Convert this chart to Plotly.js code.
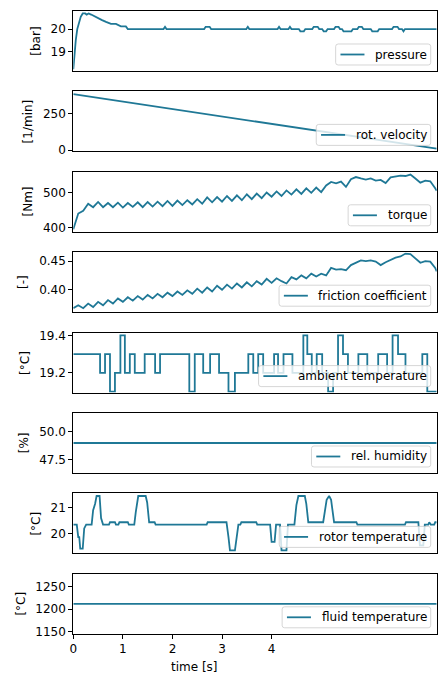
<!DOCTYPE html>
<html>
<head>
<meta charset="utf-8">
<script src="https://cdn.plot.ly/plotly-3.0.1.min.js"></script>
<style>html,body{margin:0;padding:0;background:#fff;}#chart{width:439px;height:680px;}</style>
</head>
<body>
<div id="chart"></div>
<script>
// ---------------- data ----------------
const xTicks = [0, 1, 2, 3, 4];

const tPressure = [0, 0.02, 0.05, 0.08, 0.11, 0.15, 0.19, 0.24, 0.27, 0.31, 0.36, 0.40, 0.45, 0.52, 0.58, 0.66, 0.76, 0.86, 0.96, 1.06, 1.10,
  1.82, 1.85, 1.88,
  2.64, 2.67, 2.75, 2.78,
  3.49, 3.52, 3.55,
  4.12, 4.15, 4.18,
  4.34, 4.37, 4.40,
  4.55, 4.58, 4.65, 4.68,
  4.82, 4.85, 4.93, 4.96,
  5.02, 5.05, 5.10, 5.13,
  5.26, 5.29, 5.35, 5.38,
  5.42, 5.45, 5.61, 5.64,
  5.73, 5.76, 5.82, 5.85,
  6.00, 6.03, 6.14, 6.17,
  6.43, 6.46, 6.54, 6.57,
  6.63, 6.66, 6.69,
  7.33];
const pressure = [18.2, 18.9, 19.5, 20.0, 20.3, 20.55, 20.7, 20.7, 20.65, 20.7, 20.65, 20.6, 20.55, 20.45, 20.4, 20.32, 20.23, 20.23, 20.12, 20.12, 20.0,
  20.0, 20.1, 20.0,
  20.0, 20.1, 20.1, 20.0,
  20.0, 20.1, 20.0,
  20.0, 20.1, 20.0,
  20.0, 20.1, 20.0,
  20.0, 19.9, 19.9, 20.0,
  20.0, 20.1, 20.1, 20.0,
  20.0, 19.9, 19.9, 20.0,
  20.0, 20.1, 20.1, 20.0,
  20.0, 19.9, 19.9, 20.0,
  20.0, 20.1, 20.1, 20.0,
  20.0, 19.9, 19.9, 20.0,
  20.0, 20.1, 20.1, 20.0,
  20.0, 19.9, 20.0,
  20.0];

const tVelocity = [0, 7.33];
const velocity = [385, 10];

const tOsc = [0.0, 0.1, 0.2, 0.3, 0.4, 0.5, 0.6, 0.7, 0.8, 0.9,
  1.0, 1.1, 1.2, 1.3, 1.4, 1.5, 1.6, 1.7, 1.8, 1.9,
  2.0, 2.1, 2.2, 2.3, 2.4, 2.5, 2.6, 2.7, 2.8, 2.9,
  3.0, 3.1, 3.2, 3.3, 3.4, 3.5, 3.6, 3.7, 3.8, 3.9,
  4.0, 4.1, 4.2, 4.3, 4.4, 4.5, 4.6, 4.7, 4.8, 4.9,
  5.0, 5.1, 5.2, 5.3, 5.4, 5.5, 5.6, 5.7, 5.8, 5.9,
  6.0, 6.1, 6.2, 6.3, 6.4, 6.5, 6.6, 6.7, 6.8, 6.9,
  7.0, 7.1, 7.2, 7.3, 7.33];
const torque = [395, 440, 448, 468, 458, 473, 458, 470, 458, 471,
  457, 470, 459, 472, 458, 473, 460, 474, 461, 476,
  462, 477, 464, 478, 466, 481, 468, 486, 472, 487,
  474, 490, 476, 492, 478, 495, 481, 497, 484, 500,
  488, 503, 490, 506, 494, 509, 496, 512, 499, 514,
  501, 520, 530, 526, 531, 516, 538, 544, 540, 537,
  540, 534, 536, 527, 543, 545, 548, 547, 551, 540,
  528, 534, 532, 512, 505];
const friction = [0.368, 0.373, 0.368, 0.376, 0.370, 0.379, 0.373, 0.382, 0.376, 0.385,
  0.379, 0.387, 0.381, 0.389, 0.383, 0.391, 0.385, 0.393, 0.387, 0.395,
  0.389, 0.397, 0.391, 0.399, 0.393, 0.402, 0.395, 0.404, 0.397, 0.407,
  0.400, 0.409, 0.402, 0.411, 0.404, 0.413, 0.406, 0.415, 0.409, 0.419,
  0.412, 0.420, 0.415, 0.411, 0.422, 0.418, 0.425, 0.420, 0.428, 0.423,
  0.428, 0.425, 0.438, 0.435, 0.436, 0.434, 0.443, 0.447, 0.451, 0.450,
  0.451, 0.449, 0.443, 0.448, 0.452, 0.456, 0.458, 0.463, 0.462, 0.455,
  0.447, 0.450, 0.449, 0.438, 0.432];

const tAmbient = [0, 0.54, 0.64, 0.74, 0.84, 0.95, 1.04, 1.14, 1.24, 1.44, 1.65, 1.75, 2.34, 2.45, 2.62, 2.76, 2.94,
  3.13, 3.26, 3.53, 3.63, 3.73, 3.83, 4.05, 4.13, 4.24, 4.42, 4.64, 4.72, 4.81, 4.91, 5.02, 5.14, 5.24, 5.34,
  5.44, 5.54, 5.75, 5.93, 6.15, 6.33, 6.44, 6.55, 6.70, 7.04, 7.14, 7.33];
const ambient = [19.3, 19.2, 19.3, 19.1, 19.2, 19.4, 19.2, 19.3, 19.2, 19.3, 19.2, 19.3, 19.1, 19.3, 19.2, 19.3, 19.2,
  19.1, 19.2, 19.3, 19.2, 19.3, 19.2, 19.3, 19.2, 19.3, 19.2, 19.4, 19.3, 19.2, 19.3, 19.2, 19.1, 19.2, 19.4,
  19.3, 19.2, 19.3, 19.2, 19.3, 19.2, 19.4, 19.3, 19.2, 19.3, 19.1, 19.1];

const tHumidity = [0, 7.33];
const humidity = [49.0, 49.0];

const tRotor = [0, 0.07, 0.10, 0.12, 0.14, 0.19, 0.22, 0.26, 0.37, 0.40, 0.44, 0.47, 0.53, 0.56, 0.60, 0.72, 0.74, 0.84,
  0.86, 0.91, 0.93, 1.10, 1.12, 1.23, 1.26, 1.29, 1.31, 1.46, 1.49, 1.53, 1.64, 1.66, 2.69, 2.71, 3.09, 3.13,
  3.16, 3.26, 3.29, 3.33, 3.37, 3.39, 3.69, 3.71, 3.97, 4.00, 4.06, 4.09, 4.17, 4.20, 4.30, 4.33, 4.46, 4.50,
  4.54, 4.67, 4.70, 4.74, 5.04, 5.08, 5.11, 5.16, 5.20, 5.26, 5.71, 5.73, 6.69, 6.71, 6.96, 6.99, 7.06, 7.09,
  7.16, 7.18, 7.21, 7.28, 7.30, 7.33];
const rotor = [20.35, 20.35, 19.87, 19.87, 19.42, 19.42, 20.2, 20.35, 20.35, 20.9, 21.15, 21.45, 21.45, 20.6, 20.35, 20.35, 20.44, 20.44,
  20.35, 20.35, 20.44, 20.44, 20.35, 20.35, 20.83, 21.2, 21.45, 21.45, 21.2, 20.44, 20.44, 20.35, 20.35, 20.44, 20.44, 19.87,
  19.36, 19.36, 19.87, 20.35, 20.35, 20.44, 20.44, 20.35, 20.35, 19.68, 19.68, 20.35, 20.35, 19.36, 19.36, 20.35, 20.35, 21.1,
  21.45, 21.45, 21.15, 20.44, 20.44, 21.0, 21.3, 21.45, 21.3, 20.44, 20.44, 20.35, 20.35, 20.44, 20.44, 19.55, 19.55, 20.35,
  20.35, 20.44, 20.35, 20.35, 20.44, 20.44];

const tFluid = [0, 7.33];
const fluid = [1212, 1212];

const seriesNames = ['pressure', 'rot. velocity', 'torque', 'friction coefficient', 'ambient temperature', 'rel. humidity', 'rotor temperature', 'fluid temperature'];
const yUnits = ['[bar]', '[1/min]', '[Nm]', '[-]', '[°C]', '[%]', '[°C]', '[°C]'];
const yTickVals = [[19, 20], [0, 250], [400, 500], [0.40, 0.45], [19.2, 19.4], [47.5, 50.0], [20, 21], [1150, 1200, 1250]];
const yTickText = [['19', '20'], ['0', '250'], ['400', '500'], ['0.40', '0.45'], ['19.2', '19.4'], ['47.5', '50.0'], ['20', '21'], ['1150', '1200', '1250']];
const xTitle = 'time [s]';

// ---------------- styling / layout ----------------
const W = 439, H = 680;
const LINE = '#1f7896';
const LW = 1.8;
const FONT = {family: 'DejaVu Sans', size: 12, color: '#000'};
const xs = [tPressure, tVelocity, tOsc, tOsc, tAmbient, tHumidity, tRotor, tFluid];
const ys = [pressure, velocity, torque, friction, ambient, humidity, rotor, fluid];
const shapesKind = ['linear', 'linear', 'linear', 'linear', 'hv', 'linear', 'linear', 'linear'];
const yRanges = [[18.12, 20.81], [-9, 404], [388, 559], [0.361, 0.4654], [19.095, 19.415], [46.305, 51.695], [19.24, 21.55], [1145.4, 1278.7]];
const yTitleX = [35.7, 28, 27.7, 23.7, 24.3, 24.3, 36.2, 20.8];

const plotL = 73.3, plotR = 436.7;
const px = v => v / W, py = v => 1 - v / H;

const ctx = document.createElement('canvas').getContext('2d');
ctx.font = '12px "DejaVu Sans"';

function roundRect(x0, y0, x1, y1, r) {
  const p = (a, b) => px(a).toFixed(5) + ',' + py(b).toFixed(5);
  return 'M' + p(x0 + r, y0) + ' L' + p(x1 - r, y0) + ' Q' + p(x1, y0) + ' ' + p(x1, y0 + r) +
    ' L' + p(x1, y1 - r) + ' Q' + p(x1, y1) + ' ' + p(x1 - r, y1) +
    ' L' + p(x0 + r, y1) + ' Q' + p(x0, y1) + ' ' + p(x0, y1 - r) +
    ' L' + p(x0, y0 + r) + ' Q' + p(x0, y0) + ' ' + p(x0 + r, y0) + ' Z';
}

const traces = [];
const shapes = [];
const annotations = [{
  text: xTitle, xref: 'paper', yref: 'paper', x: px(194.7), y: py(667),
  xanchor: 'center', yanchor: 'middle', showarrow: false, font: FONT, borderpad: 0
}];
const layout = {
  width: W, height: H,
  margin: {l: 0, r: 0, t: 0, b: 0},
  paper_bgcolor: '#fff', plot_bgcolor: '#fff',
  font: FONT,
  showlegend: false
};

for (let i = 0; i < 8; i++) {
  const n = i === 0 ? '' : String(i + 1);
  const top = 11 + 80.4 * i, bot = top + 60;
  traces.push({
    x: xs[i], y: ys[i], type: 'scatter', mode: 'lines', name: seriesNames[i],
    line: {color: LINE, width: LW, shape: shapesKind[i]},
    xaxis: 'x' + n, yaxis: 'y' + n
  });
  layout['xaxis' + n] = {
    domain: [px(plotL), px(plotR)], anchor: 'y' + n, range: [0, 7.33],
    showgrid: false, zeroline: false, showline: true, mirror: true,
    linecolor: '#000', linewidth: 1,
    ticks: i === 7 ? 'outside' : '', ticklen: 4, tickcolor: '#000', tickwidth: 1,
    tickvals: xTicks, showticklabels: i === 7, tickfont: FONT
  };
  layout['yaxis' + n] = {
    domain: [py(bot), py(top)], anchor: 'x' + n, range: yRanges[i],
    showgrid: false, zeroline: false, showline: true, mirror: true,
    linecolor: '#000', linewidth: 1,
    ticks: 'outside', ticklen: 4, tickcolor: '#000', tickwidth: 1,
    tickvals: yTickVals[i], ticktext: yTickText[i], tickfont: FONT
  };
  // y-axis unit label
  annotations.push({
    text: yUnits[i], xref: 'paper', yref: 'paper', x: px(yTitleX[i]), y: py((top + bot) / 2),
    xanchor: 'center', yanchor: 'middle', textangle: -90, showarrow: false, font: FONT, borderpad: 0
  });
  // legend box (matplotlib style, lower right)
  const tw = ctx.measureText(seriesNames[i]).width;
  const fs = 12;
  const boxR = plotR - 0.5 * fs, boxB = bot - 0.5 * fs, boxT = boxB - 21;
  const textR = boxR - 0.4 * fs;
  const textL = textR - tw;
  const lineR = textL - 0.8 * fs, lineL = lineR - 2 * fs;
  const boxL = lineL - 0.4 * fs;
  const cy = (boxT + boxB) / 2;
  shapes.push({
    type: 'path', xref: 'paper', yref: 'paper', layer: 'above',
    path: roundRect(boxL, boxT, boxR, boxB, 2.5),
    fillcolor: 'rgba(255,255,255,0.8)', line: {color: 'rgba(204,204,204,0.8)', width: 1}
  });
  shapes.push({
    type: 'line', xref: 'paper', yref: 'paper', layer: 'above',
    x0: px(lineL), x1: px(lineR), y0: py(cy), y1: py(cy),
    line: {color: LINE, width: LW}
  });
  annotations.push({
    text: seriesNames[i], xref: 'paper', yref: 'paper', x: px(textL), y: py(cy),
    xanchor: 'left', yanchor: 'middle', showarrow: false, font: FONT, borderpad: 0
  });
}
layout.shapes = shapes;
layout.annotations = annotations;

Plotly.newPlot('chart', traces, layout, {displayModeBar: false, staticPlot: true});
</script>
</body>
</html>
